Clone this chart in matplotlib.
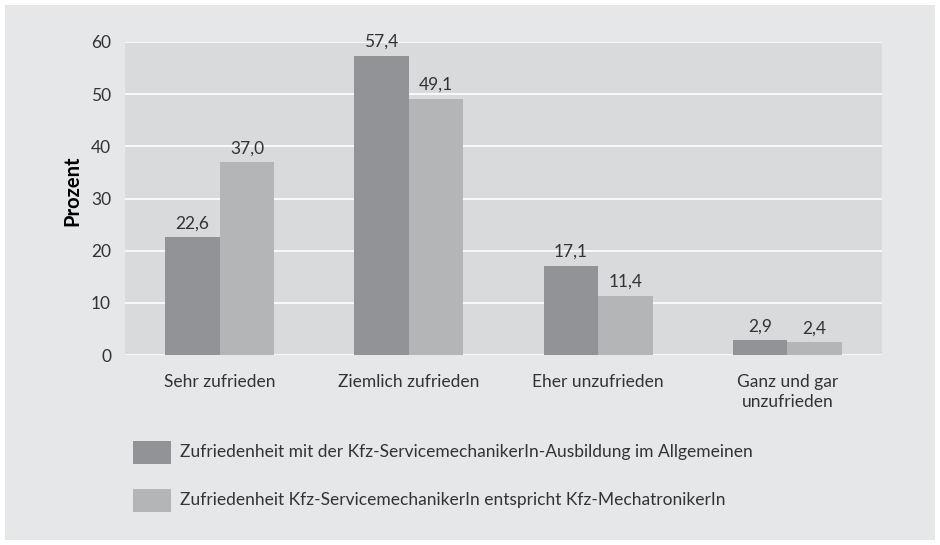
import matplotlib
matplotlib.use("Agg")
import matplotlib.pyplot as plt
from matplotlib.patches import Rectangle
import numpy as np

categories = ["Sehr zufrieden", "Ziemlich zufrieden", "Eher unzufrieden", "Ganz und gar\nunzufrieden"]
series_names = ["Zufriedenheit mit der Kfz-ServicemechanikerIn-Ausbildung im Allgemeinen",
                "Zufriedenheit Kfz-ServicemechanikerIn entspricht Kfz-MechatronikerIn"]
allgemein = [22.6, 57.4, 17.1, 2.9]
entspricht = [37.0, 49.1, 11.4, 2.4]
yticks = [0, 10, 20, 30, 40, 50, 60]

plt.rcParams['font.family'] = ['Lato', 'DejaVu Sans']
text_color = "#333333"

fig = plt.figure(figsize=(9.4, 5.45), dpi=100, facecolor="white")
fig.patches.append(Rectangle((5/940, 5/545), 930/940, 535/545, transform=fig.transFigure,
                             facecolor="#e6e7e9", edgecolor="none", zorder=-10))

ax = fig.add_axes([125/940, 1 - 355/545, 757/940, 313/545])
ax.set_facecolor("#d9dadc")
x = np.arange(len(categories))
w = 0.288
c1, c2 = "#929396", "#b4b5b7"
b1 = ax.bar(x - w/2, allgemein, w, color=c1, zorder=3)
b2 = ax.bar(x + w/2, entspricht, w, color=c2, zorder=3)
for bars, vals in ((b1, allgemein), (b2, entspricht)):
    for b, v in zip(bars, vals):
        ax.text(b.get_x() + b.get_width()/2, v + 1.1, f"{v:.1f}".replace(".", ","),
                ha="center", va="bottom", fontsize=12.5, color=text_color)

ax.set_xlim(-0.5, 3.5)
ax.set_ylim(0, 60)
ax.set_yticks(yticks)
ax.set_yticklabels([str(t) for t in yticks], fontsize=12.5, color=text_color)
ax.set_xticks(x)
ax.set_xticklabels(categories, fontsize=12.5, color=text_color, linespacing=1.3)
ax.tick_params(axis="both", length=0)
ax.tick_params(axis="y", pad=10)
ax.tick_params(axis="x", pad=14)
ax.yaxis.grid(True, color="white", linewidth=1.2, zorder=0)
ax.set_axisbelow(True)
for s in ax.spines.values():
    s.set_visible(False)
ax.set_ylabel("Prozent", fontsize=14.5, fontweight="bold", color="black")
ax.yaxis.set_label_coords(-0.056, 0.524)

# legend
for i, (name, col) in enumerate(zip(series_names, (c1, c2))):
    y0 = 1 - (464 + i*48)/545
    fig.patches.append(Rectangle((133/940, y0), 38/940, 23/545, transform=fig.transFigure,
                                 facecolor=col, edgecolor="none"))
    fig.text(180/940, y0 + 11.5/545, name, fontsize=12.5, color=text_color, va="center", ha="left")

fig.savefig("out.png", dpi=100, facecolor=fig.get_facecolor())
